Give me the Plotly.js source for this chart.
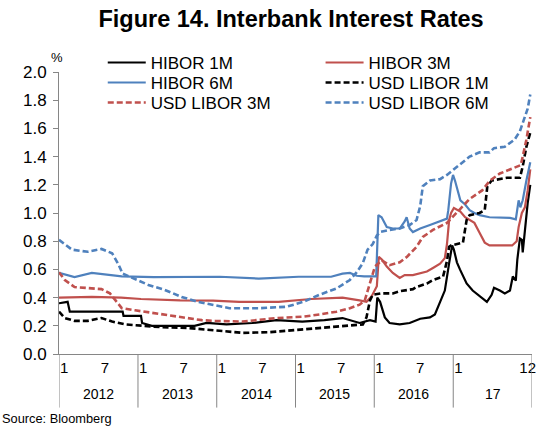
<!DOCTYPE html>
<html>
<head>
<meta charset="utf-8">
<script src="https://cdn.plot.ly/plotly-3.0.1.min.js"></script>
<style>html,body{margin:0;padding:0;background:#fff;}#chart{width:536px;height:427px;}</style>
</head>
<body>
<div id="chart"></div>
<script>
// ---- Data (% p.a.) ----
const hibor1mDates = ['2012-01-01','2012-02-10','2012-02-20','2012-06-15','2012-10-22','2012-10-26','2013-01-15','2013-01-20','2013-03-06','2013-06-15','2013-09-20','2013-11-15','2014-02-15','2014-06-15','2014-10-05','2015-02-01','2015-05-15','2015-08-07','2015-09-10','2015-10-25','2015-12-12','2016-01-07','2016-01-15','2016-01-28','2016-02-19','2016-03-12','2016-04-28','2016-06-13','2016-08-01','2016-09-15','2016-10-08','2016-11-01','2016-11-23','2016-12-13','2016-12-27','2017-01-04','2017-01-18','2017-02-01','2017-03-04','2017-04-01','2017-05-03','2017-06-06','2017-06-28','2017-07-09','2017-08-05','2017-08-28','2017-09-21','2017-10-04','2017-10-18','2017-10-25','2017-11-06','2017-11-15','2017-11-19','2017-11-29','2017-12-12','2017-12-24'];
const hibor1mValues = [0.36,0.37,0.30,0.30,0.30,0.27,0.27,0.22,0.20,0.20,0.20,0.22,0.21,0.22,0.24,0.23,0.24,0.255,0.24,0.22,0.24,0.23,0.40,0.37,0.26,0.22,0.21,0.22,0.25,0.26,0.28,0.37,0.45,0.645,0.77,0.74,0.65,0.60,0.50,0.45,0.41,0.37,0.42,0.47,0.45,0.43,0.45,0.55,0.52,0.67,0.82,0.81,0.72,0.88,1.07,1.20];

const hibor3mDates = ['2012-01-01','2012-06-01','2012-10-15','2013-01-15','2013-07-15','2013-12-15','2014-04-15','2014-10-15','2015-03-15','2015-08-07','2015-10-25','2015-11-26','2015-12-20','2016-01-13','2016-01-22','2016-02-05','2016-02-28','2016-03-27','2016-04-28','2016-05-21','2016-06-28','2016-08-01','2016-09-01','2016-09-29','2016-11-01','2016-11-23','2016-12-03','2016-12-13','2016-12-22','2017-01-04','2017-02-03','2017-02-25','2017-03-18','2017-04-09','2017-05-03','2017-05-27','2017-06-18','2017-08-05','2017-10-01','2017-10-22','2017-10-31','2017-11-15','2017-11-29','2017-12-12','2017-12-24'];
const hibor3mValues = [0.40,0.405,0.40,0.39,0.38,0.378,0.37,0.37,0.39,0.40,0.38,0.37,0.41,0.48,0.69,0.67,0.62,0.575,0.54,0.56,0.56,0.575,0.585,0.61,0.64,0.68,0.78,0.95,1.00,1.035,1.01,0.97,0.95,0.93,0.86,0.79,0.77,0.77,0.77,0.80,0.90,1.00,1.04,1.16,1.31];

const hibor6mDates = ['2012-01-01','2012-03-13','2012-06-01','2012-08-01','2012-10-18','2013-03-15','2013-09-15','2014-01-15','2014-07-15','2014-10-15','2015-01-15','2015-06-15','2015-08-07','2015-09-10','2015-10-12','2015-11-15','2016-01-10','2016-01-20','2016-02-04','2016-02-28','2016-03-27','2016-04-28','2016-05-21','2016-05-30','2016-06-13','2016-06-28','2016-08-01','2016-09-15','2016-11-01','2016-12-03','2016-12-09','2016-12-22','2016-12-31','2017-01-09','2017-02-03','2017-02-25','2017-03-18','2017-04-09','2017-05-03','2017-06-18','2017-09-21','2017-10-18','2017-10-31','2017-11-08','2017-11-19','2017-11-29','2017-12-06','2017-12-24'];
const hibor6mValues = [0.575,0.545,0.575,0.565,0.55,0.545,0.545,0.548,0.535,0.54,0.548,0.548,0.57,0.575,0.555,0.55,0.55,0.985,0.97,0.90,0.89,0.89,0.94,0.97,0.89,0.865,0.89,0.915,0.94,0.96,1.02,1.21,1.27,1.23,1.09,1.06,1.02,1.00,0.985,0.97,0.965,0.955,1.09,1.04,1.09,1.16,1.23,1.36];

const libor1mDates = ['2012-01-01','2012-01-28','2012-03-13','2012-05-13','2012-07-16','2012-09-03','2012-11-02','2013-01-19','2013-04-21','2013-08-19','2013-12-24','2014-05-01','2014-09-04','2014-12-26','2015-03-08','2015-06-10','2015-09-10','2015-11-09','2015-11-26','2015-12-12','2015-12-25','2016-02-04','2016-03-27','2016-04-28','2016-06-28','2016-07-15','2016-09-01','2016-09-29','2016-11-15','2016-12-03','2016-12-13','2016-12-22','2017-02-15','2017-03-04','2017-03-18','2017-05-03','2017-05-27','2017-06-08','2017-06-28','2017-09-07','2017-11-06','2017-11-19','2017-12-06','2017-12-24'];
const libor1mValues = [0.30,0.255,0.235,0.235,0.255,0.23,0.21,0.20,0.19,0.185,0.17,0.15,0.155,0.17,0.175,0.19,0.20,0.21,0.26,0.38,0.42,0.43,0.43,0.445,0.46,0.475,0.50,0.525,0.55,0.66,0.76,0.77,0.79,0.95,0.985,1.00,1.02,1.19,1.23,1.25,1.25,1.33,1.47,1.57];

const libor3mDates = ['2012-01-01','2012-01-28','2012-03-13','2012-05-13','2012-07-16','2012-08-24','2012-09-25','2012-10-18','2012-12-18','2013-03-19','2013-07-22','2013-10-24','2013-12-24','2014-05-01','2014-10-06','2015-02-06','2015-04-22','2015-07-10','2015-09-10','2015-10-25','2015-11-18','2015-12-12','2016-01-04','2016-02-05','2016-03-12','2016-04-28','2016-06-01','2016-07-15','2016-08-13','2016-09-29','2016-12-03','2017-02-03','2017-03-18','2017-05-15','2017-06-20','2017-08-05','2017-10-04','2017-11-10','2017-11-19','2017-12-06','2017-12-24'];
const libor3mValues = [0.58,0.525,0.475,0.47,0.46,0.43,0.37,0.325,0.31,0.29,0.26,0.24,0.235,0.23,0.255,0.265,0.28,0.30,0.325,0.35,0.38,0.50,0.62,0.665,0.63,0.65,0.69,0.76,0.83,0.88,0.93,1.03,1.10,1.16,1.23,1.28,1.32,1.34,1.40,1.52,1.68];

const libor6mDates = ['2012-01-01','2012-01-28','2012-03-01','2012-05-13','2012-07-16','2012-09-03','2012-10-01','2012-10-22','2012-12-04','2013-02-18','2013-05-04','2013-07-22','2013-10-06','2013-12-09','2014-03-01','2014-07-18','2014-11-21','2015-02-06','2015-04-22','2015-07-10','2015-09-10','2015-10-12','2015-11-09','2015-12-01','2015-12-25','2016-01-13','2016-01-28','2016-03-12','2016-04-28','2016-06-13','2016-07-15','2016-08-01','2016-08-13','2016-09-15','2016-11-01','2016-12-03','2016-12-27','2017-02-03','2017-03-18','2017-05-03','2017-06-18','2017-07-09','2017-08-28','2017-10-12','2017-11-06','2017-11-24','2017-12-12','2017-12-24'];
const libor6mValues = [0.81,0.78,0.74,0.725,0.745,0.715,0.64,0.57,0.54,0.49,0.455,0.405,0.37,0.35,0.325,0.325,0.335,0.37,0.42,0.465,0.525,0.58,0.645,0.74,0.78,0.84,0.865,0.88,0.89,0.915,0.95,1.05,1.19,1.23,1.24,1.27,1.30,1.35,1.40,1.43,1.43,1.46,1.47,1.52,1.58,1.66,1.74,1.84];

const seriesNames = ['HIBOR 1M','HIBOR 3M','HIBOR 6M','USD LIBOR 1M','USD LIBOR 3M','USD LIBOR 6M'];
const years = [2012, 2013, 2014, 2015, 2016, 2017];
const yearLabels = ['2012','2013','2014','2015','2016','17'];
const monthTickVals = ['2012-01-25','2012-08-01','2013-01-25','2013-08-01','2014-01-25','2014-08-01','2015-01-25','2015-08-01','2016-01-25','2016-08-01','2017-01-25','2017-12-12'];
const monthTickText = ['1','7','1','7','1','7','1','7','1','7','1','12'];

// ---- Styles ----
const BLACK = '#000000', RED = '#C0504D', BLUE = '#4F81BD';
const FONT = 'Arial, "Liberation Sans", sans-serif';
const DASH = '6px,3px';

function line(name, x, y, color, dashed, legendId) {
  return {
    type: 'scatter', mode: 'lines', name: name, x: x, y: y, legend: legendId,
    line: {color: color, width: dashed ? 2.6 : 2.2, dash: dashed ? DASH : 'solid'},
    hoverinfo: 'skip'
  };
}

const traces = [
  line(seriesNames[0], hibor1mDates, hibor1mValues, BLACK, false, 'legend'),
  line(seriesNames[1], hibor3mDates, hibor3mValues, RED, false, 'legend2'),
  line(seriesNames[2], hibor6mDates, hibor6mValues, BLUE, false, 'legend3'),
  line(seriesNames[3], libor1mDates, libor1mValues, BLACK, true, 'legend4'),
  line(seriesNames[4], libor3mDates, libor3mValues, RED, true, 'legend5'),
  line(seriesNames[5], libor6mDates, libor6mValues, BLUE, true, 'legend6')
];

const AXIS_COLOR = '#868686';
const shapes = [];
years.concat([years[years.length - 1] + 1]).forEach(function (yr) {
  shapes.push({type: 'line', xref: 'x', yref: 'paper', x0: yr + '-01-01', x1: yr + '-01-01',
    y0: 0, y1: -0.19, line: {color: AXIS_COLOR, width: 1}});
});

const annotations = years.map(function (yr, i) {
  return {xref: 'x', yref: 'paper', x: yr + '-07-02', y: -0.142, text: yearLabels[i],
    showarrow: false, xanchor: 'center', yanchor: 'middle', font: {size: 14, color: '#000'}};
});
annotations.push({xref: 'paper', yref: 'paper', x: -0.004, y: 1.053, text: '%', showarrow: false,
  xanchor: 'center', yanchor: 'middle', font: {size: 13, color: '#000'}});
annotations.push({xref: 'paper', yref: 'paper', x: -0.1247, y: -0.227, text: 'Source: Bloomberg', showarrow: false,
  xanchor: 'left', yanchor: 'middle', font: {size: 12.8, color: '#000'}});

// 2 columns x 3 rows legend layout (one small legend per entry)
const legendCols = [0.0925, 0.553];
const legendRows = [1.096, 1.025, 0.954];
function legendBox(i) {
  return {x: legendCols[i % 2], y: legendRows[Math.floor(i / 2)], xanchor: 'left', yanchor: 'top',
    orientation: 'v', itemwidth: 38, font: {size: 17, color: '#000', family: FONT},
    bgcolor: 'rgba(0,0,0,0)', borderwidth: 0};
}

const layout = {
  width: 536, height: 427,
  margin: {l: 59, r: 4, t: 72, b: 73},
  paper_bgcolor: '#ffffff', plot_bgcolor: '#ffffff',
  font: {family: FONT, size: 14, color: '#000'},
  title: {text: 'Figure 14. Interbank Interest Rates', x: 0.543, xanchor: 'center', y: 0.955, yanchor: 'middle',
    font: {size: 23.5, weight: 'bold', color: '#000', family: FONT}},
  showlegend: true,
  legend: legendBox(0), legend2: legendBox(1), legend3: legendBox(2),
  legend4: legendBox(3), legend5: legendBox(4), legend6: legendBox(5),
  xaxis: {type: 'date', range: ['2012-01-01', '2018-01-01'], showgrid: false, zeroline: false,
    showline: true, linecolor: AXIS_COLOR, linewidth: 1, ticks: '',
    tickmode: 'array', tickvals: monthTickVals, ticktext: monthTickText, ticklabeloverflow: 'allow',
    tickfont: {size: 15, color: '#000'}, fixedrange: true},
  yaxis: {range: [0, 2], dtick: 0.2, tick0: 0, tickformat: '.1f', showgrid: false, zeroline: false,
    showline: true, linecolor: AXIS_COLOR, linewidth: 1, ticks: 'outside', ticklen: 5, tickcolor: AXIS_COLOR,
    ticklabelstandoff: 3, tickfont: {size: 17, color: '#000'}, fixedrange: true},
  shapes: shapes,
  annotations: annotations
};

Plotly.newPlot('chart', traces, layout, {displayModeBar: false, staticPlot: true});
</script>
</body>
</html>
